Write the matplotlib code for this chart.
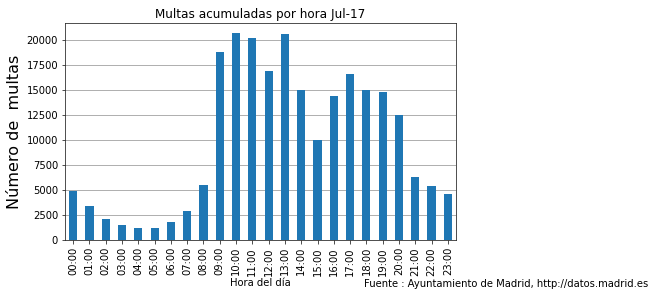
import matplotlib
matplotlib.use('Agg')
import matplotlib.pyplot as plt
import pandas as pd

# multas por hora del dia (julio 2017)
horas = ['%02d:00' % h for h in range(24)]
multas = [4950, 3400, 2100, 1500, 1200, 1200, 1800, 2900, 5500, 18800,
          20700, 20200, 16900, 20600, 15000, 10000, 14400, 16600, 15000, 14800,
          12500, 6300, 5400, 4600]

serie = pd.Series(multas, index=horas)

fig = plt.figure(figsize=(655 / 72, 297 / 72), dpi=72)
ax = fig.add_axes([65 / 655, 1 - 240 / 297, (456 - 65) / 655, (240 - 23) / 297])

serie.plot(kind='bar', ax=ax, color='#1f77b4', width=0.5)

ax.set_title('Multas acumuladas por hora Jul-17', fontsize=12, pad=5)
ax.set_ylabel('Número de  multas', fontsize=16)
ax.set_xlabel('Hora del día', fontsize=10, labelpad=2)
ax.yaxis.grid(True, color='#b0b0b0', linewidth=1)
ax.set_axisbelow(True)
ax.tick_params(axis='both', labelsize=10, length=3.5, color='#262626')
for s in ax.spines.values():
    s.set_color('#262626')

fig.text(648 / 655, 1 - 284 / 297, 'Fuente : Ayuntamiento de Madrid, http://datos.madrid.es',
         ha='right', va='center', fontsize=10)

fig.savefig('out.png', dpi=72)
